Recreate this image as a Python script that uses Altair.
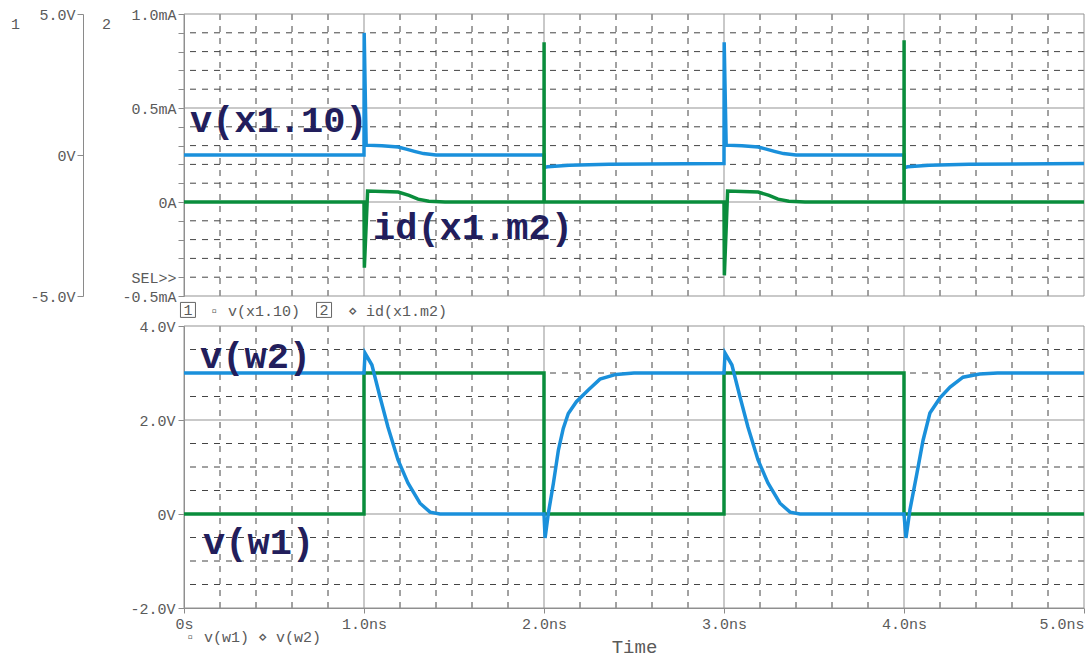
import altair as alt
import pandas as pd

# ---------------- data ----------------
# time grid (ns)
t_major = [0, 1, 2, 3, 4, 5]
t_minor = [0.2, 0.4, 0.6, 0.8, 1.2, 1.4, 1.6, 1.8, 2.2, 2.4, 2.6, 2.8,
           3.2, 3.4, 3.6, 3.8, 4.2, 4.4, 4.6, 4.8]
t_labels = ["0s", "1.0ns", "2.0ns", "3.0ns", "4.0ns", "5.0ns"]

# top panel, axis 2 (current, mA)
cur_major = [-0.5, 0.0, 0.5, 1.0]
cur_minor = [-0.4, -0.3, -0.2, -0.1, 0.1, 0.2, 0.3, 0.4, 0.6, 0.7, 0.8, 0.9]
cur_ticks = [-0.5, -0.4, -0.3, -0.2, -0.1, 0.0, 0.1, 0.2, 0.3, 0.4, 0.5,
             0.6, 0.7, 0.8, 0.9, 1.0]
cur_label_vals = [-0.5, -0.4, 0.0, 0.5, 1.0]
cur_label_text = ["-0.5mA", "SEL>>", "0A", "0.5mA", "1.0mA"]

# top panel, axis 1 (voltage, V)
v1_ticks = [-5, 0, 5]
v1_label_text = ["-5.0V", "0V", "5.0V"]

# bottom panel (V)
vb_major = [-2, 0, 2, 4]
vb_minor = [-1.5, -1.0, -0.5, 0.5, 1.0, 1.5, 2.5, 3.0, 3.5]
vb_label_text = ["-2.0V", "0V", "2.0V", "4.0V"]

# v(x1.10) on axis 1 (V)
vx110_t = [0, 1.0, 1.001, 1.012, 1.1, 1.19, 1.24, 1.28, 1.33, 1.40,
           2.0, 2.002, 2.02, 2.14, 2.36, 3.0,
           3.001, 3.012, 3.1, 3.19, 3.24, 3.28, 3.33, 3.40,
           4.0, 4.002, 4.02, 4.14, 4.36, 5.0]
vx110_v = [0, 0, 4.33, 0.35, 0.33, 0.28, 0.20, 0.13, 0.05, 0.0,
           0.0, -0.44, -0.42, -0.36, -0.33, -0.30,
           4.0, 0.35, 0.33, 0.28, 0.20, 0.13, 0.05, 0.0,
           0.0, -0.45, -0.42, -0.36, -0.33, -0.30]

# id(x1.m2) on axis 2 (mA)
idm2_t = [0, 1.0, 1.002, 1.02, 1.19, 1.25, 1.30, 1.36, 1.45,
          2.0, 2.0005, 2.001,
          3.0, 3.002, 3.02, 3.19, 3.25, 3.30, 3.36, 3.45,
          4.0, 4.0005, 4.001, 5.0]
idm2_v = [0, 0, -0.35, 0.058, 0.053, 0.035, 0.015, 0.004, 0.0,
          0.0, 0.85, 0.0,
          0.0, -0.39, 0.058, 0.053, 0.035, 0.015, 0.004, 0.0,
          0.0, 0.86, 0.0, 0.0]

# v(w1) (V)
vw1_t = [0, 1, 1, 2, 2, 3, 3, 4, 4, 5]
vw1_v = [0, 0, 3, 3, 0, 0, 3, 3, 0, 0]

# v(w2) (V)
vw2_t = [0, 1.0, 1.006, 1.044, 1.089, 1.133, 1.189, 1.244, 1.311, 1.367, 1.422,
         2.0, 2.006, 2.024, 2.052, 2.08, 2.107, 2.135, 2.18, 2.246, 2.311, 2.40, 2.50,
         3.0, 3.006, 3.044, 3.089, 3.133, 3.189, 3.244, 3.311, 3.367, 3.422,
         4.0, 4.011, 4.033, 4.072, 4.106, 4.144, 4.20, 4.256, 4.328, 4.42, 4.52, 5.0]
vw2_v = [3, 3, 3.42, 3.17, 2.49, 1.85, 1.15, 0.66, 0.23, 0.04, 0.0,
         0.0, -0.51, 0.01, 0.65, 1.36, 1.82, 2.14, 2.39, 2.64, 2.87, 2.97, 3.0,
         3.0, 3.42, 3.17, 2.49, 1.85, 1.15, 0.66, 0.23, 0.04, 0.0,
         0.0, -0.51, 0.09, 0.87, 1.57, 2.15, 2.47, 2.70, 2.91, 2.98, 3.0, 3.0]

# trace name annotations (data units)
top_lbl_text = ["v(x1.10)", "id(x1.m2)"]
top_lbl_t = [0.033, 1.05]
top_lbl_y = [0.431, -0.138]          # mA
bot_lbl_text = ["v(w2)", "v(w1)"]
bot_lbl_t = [0.089, 0.106]
bot_lbl_y = [3.34, -0.62]            # V

# legend rows (data units)
leg_box_text = ["1", "2"]
leg_box_t = [0.022, 0.778]
leg_box_y = [-0.574, -0.574]
leg_top_text = ["\u25ab v(x1.10)", "\u22c4 id(x1.m2)"]
leg_top_t = [0.144, 0.911]
leg_top_y = [-0.578, -0.578]
leg_bot_text = ["\u25ab v(w1) \u22c4 v(w2)"]
leg_bot_t = [0.011]
leg_bot_y = [-2.62]

# ---------------- style ----------------
FONT = "Liberation Mono"
GRAY = "#5a5a5a"
AXIS_GRAY = "#8a8a8a"
GRID_SOLID = "#939393"
GRID_DASH = "#444444"
BLUE = "#1a90db"
GREEN = "#0a8d3c"
NAVY = "#221e5c"
W, H = 900, 282
DASH = [6, 6]

xs = alt.Scale(domain=[0, 5], nice=False, zero=False)
cur_scale = alt.Scale(domain=[-0.5, 1.0], nice=False, zero=False)
v1_scale = alt.Scale(domain=[-5, 5], nice=False, zero=False)
vb_scale = alt.Scale(domain=[-2, 4], nice=False, zero=False)


def label_expr(vals, texts):
    e = "''"
    for v, s in reversed(list(zip(vals, texts))):
        e = f"abs(datum.value - ({v})) < 0.001 ? '{s}' : ({e})"
    return e


cur_axis = alt.Axis(orient="left", values=cur_ticks,
                    labelExpr=label_expr(cur_label_vals, cur_label_text),
                    title="2", titleAngle=0, titleX=-78, titleY=9,
                    titleAlign="center", titleBaseline="middle",
                    tickSize=6, labelPadding=2, grid=False)
v1_axis = alt.Axis(orient="left", values=v1_ticks, offset=101,
                   labelExpr=label_expr(v1_ticks, v1_label_text),
                   title="1", titleAngle=0, titleX=-68, titleY=9,
                   titleAlign="center", titleBaseline="middle",
                   tickSize=6, labelPadding=2, grid=False)
vb_axis = alt.Axis(orient="left", values=vb_major,
                   labelExpr=label_expr(vb_major, vb_label_text),
                   title=None, tickSize=6, labelPadding=3, grid=False)
xb_axis = alt.Axis(orient="bottom", values=t_major,
                   labelExpr=label_expr(t_major, t_labels),
                   labelAlign={"expr": "datum.value >= 5 ? 'right' : 'center'"},
                   title="Time", titleFontSize=19, titlePadding=6,
                   tickSize=5, labelPadding=3, grid=False)


def vrule(vals, dashed, axis):
    df = pd.DataFrame({"t": vals})
    kw = dict(color=GRID_DASH if dashed else GRID_SOLID, strokeWidth=1)
    if dashed:
        kw["strokeDash"] = DASH
    return alt.Chart(df).mark_rule(**kw).encode(
        x=alt.X("t:Q", scale=xs, axis=axis))


def hrule(vals, dashed, scale, axis, xaxis):
    df = pd.DataFrame({"y": vals})
    kw = dict(color=GRID_DASH if dashed else GRID_SOLID, strokeWidth=1)
    if dashed:
        kw["strokeDash"] = DASH
    return alt.Chart(df).mark_rule(**kw).encode(
        y=alt.Y("y:Q", scale=scale, axis=axis))


def line(ts, vs, color, scale, yaxis, xaxis):
    df = pd.DataFrame({"t": ts, "y": vs, "i": list(range(len(ts)))})
    return alt.Chart(df).mark_line(color=color, strokeWidth=3.5).encode(
        x=alt.X("t:Q", scale=xs, axis=xaxis),
        y=alt.Y("y:Q", scale=scale, axis=yaxis),
        order="i:Q")


def texts(ts, ys, txt, scale, yaxis, xaxis, **kw):
    df = pd.DataFrame({"t": ts, "y": ys, "s": txt})
    return alt.Chart(df).mark_text(font=FONT, baseline="middle", **kw).encode(
        x=alt.X("t:Q", scale=xs, axis=xaxis),
        y=alt.Y("y:Q", scale=scale, axis=yaxis),
        text="s:N")


def boxes(ts, ys, scale):
    df = pd.DataFrame({"t": ts, "y": ys})
    return alt.Chart(df).mark_point(shape="square", filled=False, size=225,
                                    stroke="#666666", strokeWidth=1, opacity=1).encode(
        x=alt.X("t:Q", scale=xs, axis=None),
        y=alt.Y("y:Q", scale=scale, axis=None))


# ---------------- top panel ----------------
top_grid = alt.layer(
    vrule(t_minor, True, None),
    hrule(cur_minor, True, cur_scale, cur_axis, None),
    vrule(t_major, False, None),
    hrule(cur_major, False, cur_scale, cur_axis, None),
)
top_volt = alt.layer(line(vx110_t, vx110_v, BLUE, v1_scale, v1_axis, None))
top_traces = alt.layer(
    line(idm2_t, idm2_v, GREEN, cur_scale, None, None),
    texts(top_lbl_t, top_lbl_y, top_lbl_text, cur_scale, None, None,
          align="left", fontSize=37, fontWeight="bold", color=NAVY),
    boxes(leg_box_t, leg_box_y, cur_scale),
    texts(leg_box_t, leg_box_y, leg_box_text, cur_scale, None, None,
          align="center", fontSize=15, color=GRAY),
    texts(leg_top_t, leg_top_y, leg_top_text, cur_scale, None, None,
          align="left", fontSize=15, color=GRAY),
)
top = alt.layer(top_grid, top_volt, top_traces).resolve_scale(
    y="independent").properties(width=W, height=H)

# ---------------- bottom panel ----------------
bottom = alt.layer(
    vrule(t_minor, True, xb_axis),
    hrule(vb_minor, True, vb_scale, vb_axis, xb_axis),
    vrule(t_major, False, xb_axis),
    hrule(vb_major, False, vb_scale, vb_axis, xb_axis),
    line(vw1_t, vw1_v, GREEN, vb_scale, vb_axis, xb_axis),
    line(vw2_t, vw2_v, BLUE, vb_scale, vb_axis, xb_axis),
    texts(bot_lbl_t, bot_lbl_y, bot_lbl_text, vb_scale, vb_axis, xb_axis,
          align="left", fontSize=37, fontWeight="bold", color=NAVY),
    texts(leg_bot_t, leg_bot_y, leg_bot_text, vb_scale, vb_axis, xb_axis,
          align="left", fontSize=15, color=GRAY),
).properties(width=W, height=H)

# overall: 184 + 900 + 4 wide, 14 + 645 tall
chart = alt.vconcat(top, bottom, spacing=30, bounds="flush").properties(
    autosize=alt.AutoSizeParams(type="none"),
    padding={"left": 184, "top": 14, "right": 4, "bottom": 645},
    background="white",
).configure_view(strokeWidth=0).configure_axis(
    labelFont=FONT, labelFontSize=15, labelColor=GRAY,
    titleFont=FONT, titleFontSize=15, titleColor=GRAY, titleFontWeight="normal",
    domainColor=AXIS_GRAY, tickColor=AXIS_GRAY, domainWidth=1, tickWidth=1,
)

chart.save("out.html", embed_options={"renderer": "svg", "actions": False})
